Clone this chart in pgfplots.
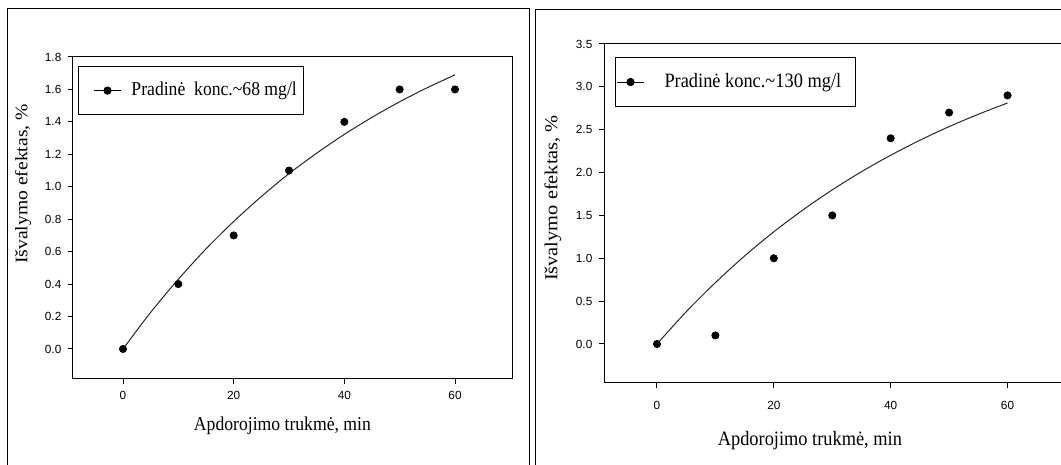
\documentclass[border=0pt]{standalone}
\usepackage{fontspec}
\setmainfont{Liberation Serif}
\newfontfamily\ticksans{Liberation Sans}
\usepackage{graphicx}
\usepackage{pgfplots}
\pgfplotsset{compat=1.18}

% 1 px of the reference = 0.5pt here
\pgfplotsset{
  panel/.style={
    scale only axis, anchor=south west,
    axis line style={black, line width=0.5pt},
    tick align=outside, tick pos=left, major tick length=2.3pt,
    every tick/.style={black, line width=0.5pt},
    tick label style={font=\ticksans\fontsize{5.9}{7}\selectfont},
    /pgf/number format/assume math mode=true,
    yticklabel style={/pgf/number format/fixed, /pgf/number format/fixed zerofill,
      /pgf/number format/precision=1},
    xtick={0,20,40,60},
    legend cell align=left,
  },
  dots/.style={only marks, mark=*, mark size=1.8pt, black},
  fitline/.style={no marks, line width=0.5pt, black!85, smooth},
}

\begin{document}
\begin{tikzpicture}
  % panel frames
  \draw[line width=0.5pt] (3.5pt,-10pt) rectangle (264.5pt,228pt);
  \draw[line width=0.5pt] (267.5pt,-10pt) rectangle (545pt,227.5pt);

  % left panel
  \begin{axis}[panel,
      at={(36.5pt,43pt)}, width=219.5pt, height=161pt,
      xmin=-9.04, xmax=70.3, ymin=-0.185, ymax=1.8,
      ytick={0,0.2,0.4,0.6,0.8,1.0,1.2,1.4,1.6,1.8},
      xticklabel style={yshift=-0.2pt},
      label style={font=\fontsize{9.8}{12}\selectfont},
      xlabel={\scalebox{0.9}[1]{Apdorojimo trukmė, min}},
      xlabel style={at={(axis description cs:0.477,-0.146)}, anchor=center},
      ylabel={\scalebox{1}[0.9]{Išvalymo efektas, \%}},
      ylabel style={at={(axis description cs:-0.1139,0.6056)}, anchor=center},
      legend style={at={(axis description cs:0.0125,0.972)}, anchor=north west,
        draw=black, line width=0.5pt, inner xsep=2.5pt, inner ysep=5.9pt,
        font=\fontsize{9.8}{12}\selectfont},
      legend image code/.code={
        \path (-4.75pt,0pt) (14pt,0pt);
        \draw[mark repeat=2, mark phase=2, #1] plot coordinates {(0pt,0pt) (6.75pt,0pt) (13.5pt,0pt)};
      },
    ]
    \addplot[fitline, forget plot] coordinates {(0,0) (5,0.226) (10,0.430) (15,0.617) (20,0.786)
      (25,0.940) (30,1.081) (35,1.207) (40,1.323) (45,1.428) (50,1.524) (55,1.611) (60,1.690)};
    \addplot[dots, forget plot] coordinates {(0,0) (10,0.4) (20,0.7) (30,1.1) (40,1.4) (50,1.6) (60,1.6)};
    \addlegendimage{black, line width=0.5pt, mark=*, mark size=1.8pt}
    \addlegendentry{\makebox[84pt][l]{\hspace{2.5pt}\scalebox{0.9}[1]{Pradinė\ \ konc.\textasciitilde 68 mg/l}}}
  \end{axis}

  % right panel
  \begin{axis}[panel,
      at={(302pt,41pt)}, width=231.85pt, height=169.5pt,
      xmin=-9.07, xmax=70.3, ymin=-0.455, ymax=3.5,
      ytick={0,0.5,1.0,1.5,2.0,2.5,3.0,3.5},
      xticklabel style={yshift=-3.3pt},
      label style={font=\fontsize{10.2}{12}\selectfont},
      xlabel={\scalebox{0.9}[1]{Apdorojimo trukmė, min}},
      xlabel style={at={(axis description cs:0.444,-0.171)}, anchor=center},
      ylabel={\scalebox{1}[0.9]{Išvalymo efektas, \%}},
      ylabel style={at={(axis description cs:-0.11,0.5457)}, anchor=center},
      legend style={at={(axis description cs:0.0231,0.9617)}, anchor=north west,
        draw=black, line width=0.5pt, inner xsep=0.65pt, inner ysep=6pt,
        font=\fontsize{10.2}{12}\selectfont},
      legend image code/.code={
        \path (0pt,0pt) (18.75pt,0pt);
        \draw[mark repeat=2, mark phase=2, #1] plot coordinates {(0pt,0pt) (6.75pt,0pt) (13.5pt,0pt)};
      },
    ]
    \addplot[fitline, forget plot] coordinates {(0,0) (5,0.376) (10,0.716) (15,1.027) (20,1.309)
      (25,1.565) (30,1.798) (35,2.010) (40,2.202) (45,2.377) (50,2.536) (55,2.680) (60,2.812)};
    \addplot[dots, forget plot] coordinates {(0,0) (10,0.1) (20,1.0) (30,1.5) (40,2.4) (50,2.7) (60,2.9)};
    \addlegendimage{black, line width=0.5pt, mark=*, mark size=1.8pt}
    \addlegendentry{\makebox[95.6pt][l]{\hspace{2.75pt}\scalebox{0.9}[1]{Pradinė konc.\textasciitilde 130 mg/l}}}
  \end{axis}

  \pgfresetboundingbox
  \path[use as bounding box] (0pt,0pt) rectangle (530.5pt,232.5pt);
\end{tikzpicture}
\end{document}
